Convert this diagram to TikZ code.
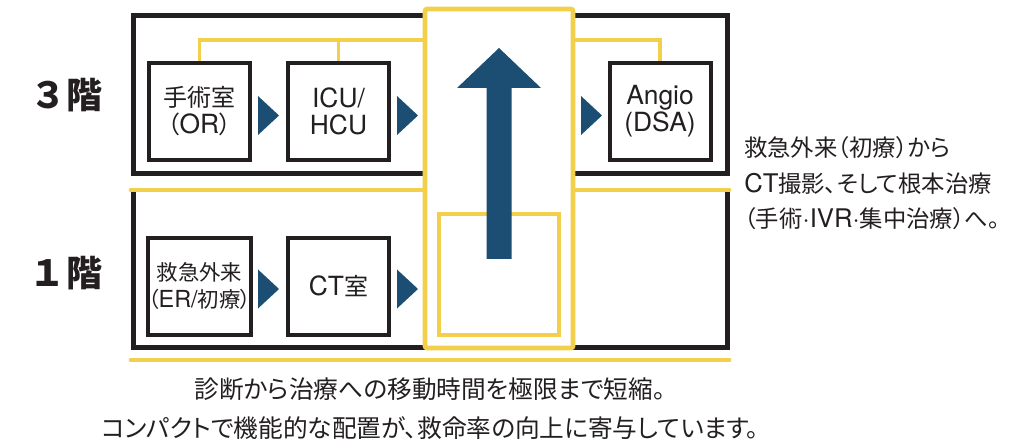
\documentclass[tikz,border=0pt]{standalone}
\usepackage{fontspec}
\setmainfont{TeX Gyre Heros}[Scale=1.1]
\newfontfamily\jpfont[RawFeature=+palt]{Noto Sans CJK JP}
\newcommand\ja[1]{{\jpfont #1}}
\definecolor{ink}{HTML}{231F20}
\definecolor{gold}{HTML}{F2D04B}
\definecolor{navy}{HTML}{1B4E72}
\tikzset{
  frame/.style={draw=ink, line width=3.75pt, line join=miter},
  goldline/.style={draw=gold, line width=3.5pt, line cap=round},
  link/.style={draw=gold, line width=2.6pt},
  column/.style={draw=gold, fill=white, line width=3.5pt, rounded corners=1.5pt,
    minimum width=111pt, minimum height=254.25pt, inner sep=0pt},
  pad/.style={draw=gold, line width=2.5pt, minimum width=90pt, minimum height=90.75pt, inner sep=0pt},
  room/.style={draw=ink, fill=white, line width=3pt, minimum width=75.75pt, minimum height=72.75pt,
    inner sep=0pt, align=center, text=ink, font=\fontsize{18}{20.25}\selectfont},
  roomsmall/.style={room, font=\fontsize{16}{20.25}\selectfont},
  floor/.style={text=ink, inner sep=0pt, font=\jpfont\bfseries\fontsize{27}{28}\selectfont},
  note/.style={text=ink, inner sep=0pt, anchor=west, font=\fontsize{17.5}{20}\selectfont},
  caption/.style={text=ink, inner sep=0pt, font=\jpfont\fontsize{18.5}{20}\selectfont},
  marker/.style={fill=navy, draw=none}
}
\newcommand\tri[2]{\fill[marker] (#1,#2-19.5) -- (#1+21,#2) -- (#1,#2+19.5) -- cycle;}
\begin{document}
\begin{tikzpicture}[x=0.75pt,y=-0.75pt]
\useasboundingbox (0,0) rectangle (1012,441);
% floor frames
\draw[frame] (133,16) rectangle (727,174);
\draw[frame] (133,190) -- (133,347) -- (727,347) -- (727,190);
\draw[goldline] (131,190) -- (729,190);
\draw[goldline] (131,360) -- (729,360);
% vertical core
\node[column] (col) at (499,178.5) {};
\node[pad] (pad) at (499,274.5) {};
\fill[navy] (486.5,259) -- (486.5,88) -- (457,88) -- (499,48) -- (541,88) -- (511.5,88) -- (511.5,259) -- cycle;
% rooms
\node[room] (or) at (199.5,111.5) {\ja{手術室}\\\ja{（}OR\ja{）}};
\node[room] (icu) at (338.5,111.5) {ICU/\\HCU};
\node[room] (angio) at (660,111.5) {Angio\\(DSA)};
\node[roomsmall] (er) at (199.5,286.5) {\ja{救急外来}\\\ja{（}ER/\ja{初療）}};
\node[room] (ct) at (338.5,286.5) {CT\ja{室}};
% connectors
\coordinate (bus) at (0,40);
\draw[link] (or.north) |- (col.west |- bus);
\draw[link] (icu.north) -- (icu.north |- bus);
\draw[link] (angio.north) |- (col.east |- bus);
% flow markers
\tri{258}{115.5}
\tri{397}{115.5}
\tri{581}{115.5}
\tri{258}{289}
\tri{397}{289}
% floor labels
\node[floor] (f3) at (68,95) {３\hspace{4pt}階};
\node[floor] (f1) at (68,273.5) {１\hspace{4pt}階};
% side note
\node[note] (n1) at (744,148) {\ja{救急外来（初療）から}};
\node[note] (n2) at (744,184) {CT\ja{撮影、そして根本治療}};
\node[note] (n3) at (744,219) {\ja{（手術}·IVR·\ja{集中治療）へ。}};
% caption
\node[caption] (c1) at (430,389) {診断から治療への移動時間を極限まで短縮。};
\node[caption] (c2) at (430,428) {コンパクトで機能的な配置が、救命率の向上に寄与しています。};
\end{tikzpicture}
\end{document}
